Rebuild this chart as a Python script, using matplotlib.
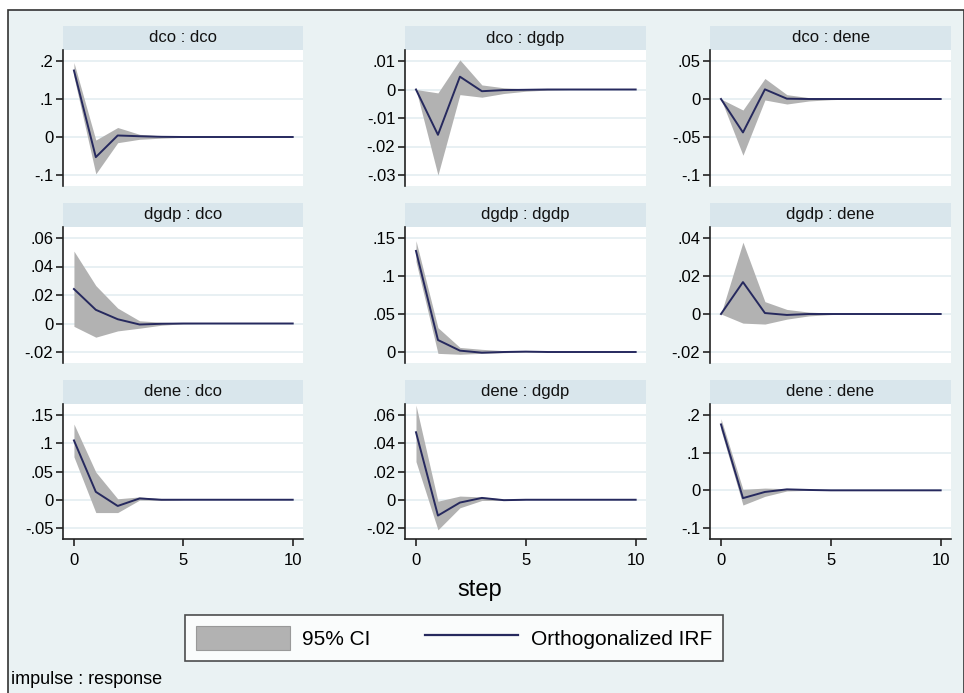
import matplotlib
matplotlib.use("Agg")
import matplotlib.pyplot as plt
from matplotlib.patches import Rectangle, Patch
from matplotlib.lines import Line2D
from matplotlib.ticker import FuncFormatter
import numpy as np

plt.rcParams['font.family'] = ['Liberation Sans', 'DejaVu Sans']

steps = list(range(11))

titles = ["dco : dco", "dco : dgdp", "dco : dene",
          "dgdp : dco", "dgdp : dgdp", "dgdp : dene",
          "dene : dco", "dene : dgdp", "dene : dene"]

irf_dco_dco = [0.175, -0.053, 0.004, 0.002, 0.0005, 0, 0, 0, 0, 0, 0]
up_dco_dco = [0.196, -0.008, 0.025, 0.007, 0.003, 0.001, 0, 0, 0, 0, 0]
lo_dco_dco = [0.159, -0.097, -0.015, -0.006, -0.003, -0.001, 0, 0, 0, 0, 0]

irf_dco_dgdp = [0, -0.0159, 0.0045, -0.0006, -0.0002, -0.0001, 0, 0, 0, 0, 0]
up_dco_dgdp = [0, -0.0012, 0.0104, 0.0016, 0.0006, 0.0002, 0, 0, 0, 0, 0]
lo_dco_dgdp = [0, -0.030, -0.0018, -0.0027, -0.0014, -0.0006, -0.0002, 0, 0, 0, 0]

irf_dco_dene = [0, -0.044, 0.0127, 0.0004, 0, 0, 0, 0, 0, 0, 0]
up_dco_dene = [0, -0.0145, 0.027, 0.0057, 0.0018, 0.0004, 0, 0, 0, 0, 0]
lo_dco_dene = [0, -0.074, -0.0013, -0.0066, -0.0026, -0.0009, 0, 0, 0, 0, 0]

irf_dgdp_dco = [0.0242, 0.0096, 0.003, -0.0007, -0.0002, 0, 0, 0, 0, 0, 0]
up_dgdp_dco = [0.0508, 0.0266, 0.0108, 0.0019, 0.0009, 0.0005, 0, 0, 0, 0, 0]
lo_dgdp_dco = [-0.002, -0.0096, -0.0052, -0.0033, -0.0012, -0.0002, 0, 0, 0, 0, 0]

irf_dgdp_dgdp = [0.133, 0.0158, 0.0018, -0.0009, 0, 0.0005, 0, 0, 0, 0, 0]
up_dgdp_dgdp = [0.1465, 0.032, 0.006, 0.0035, 0.0018, 0.001, 0, 0, 0, 0, 0]
lo_dgdp_dgdp = [0.119, -0.0018, -0.003, -0.0018, -0.0009, 0, 0, 0, 0, 0, 0]

irf_dgdp_dene = [0, 0.0168, 0.0005, -0.0005, 0, 0, 0, 0, 0, 0, 0]
up_dgdp_dene = [0, 0.0378, 0.0065, 0.0024, 0.001, 0.0005, 0, 0, 0, 0, 0]
lo_dgdp_dene = [0, -0.0048, -0.0053, -0.0027, -0.001, -0.0003, 0, 0, 0, 0, 0]

irf_dene_dco = [0.105, 0.014, -0.011, 0.0023, 0, 0, 0, 0, 0, 0, 0]
up_dene_dco = [0.134, 0.049, 0.0017, 0.005, 0.0017, 0, 0, 0, 0, 0, 0]
lo_dene_dco = [0.076, -0.0227, -0.0227, -0.0006, -0.001, 0, 0, 0, 0, 0, 0]

irf_dene_dgdp = [0.0478, -0.0112, -0.002, 0.0013, -0.0003, 0, 0, 0, 0, 0, 0]
up_dene_dgdp = [0.067, -0.001, 0.0026, 0.002, 0.0005, 0, 0, 0, 0, 0, 0]
lo_dene_dgdp = [0.027, -0.0213, -0.0057, -0.0005, -0.0005, 0, 0, 0, 0, 0, 0]

irf_dene_dene = [0.175, -0.0207, -0.0043, 0.0026, 0.001, 0, 0, 0, 0, 0, 0]
up_dene_dene = [0.19, 0.0026, 0.006, 0.0043, 0.001, 0, 0, 0, 0, 0, 0]
lo_dene_dene = [0.16, -0.039, -0.016, -0.0017, 0, 0, 0, 0, 0, 0, 0]

irfs = [irf_dco_dco, irf_dco_dgdp, irf_dco_dene,
        irf_dgdp_dco, irf_dgdp_dgdp, irf_dgdp_dene,
        irf_dene_dco, irf_dene_dgdp, irf_dene_dene]
ups = [up_dco_dco, up_dco_dgdp, up_dco_dene,
       up_dgdp_dco, up_dgdp_dgdp, up_dgdp_dene,
       up_dene_dco, up_dene_dgdp, up_dene_dene]
los = [lo_dco_dco, lo_dco_dgdp, lo_dco_dene,
       lo_dgdp_dco, lo_dgdp_dgdp, lo_dgdp_dene,
       lo_dene_dco, lo_dene_dgdp, lo_dene_dene]

yticks = [[-0.1, 0, 0.1, 0.2],
          [-0.03, -0.02, -0.01, 0, 0.01],
          [-0.1, -0.05, 0, 0.05],
          [-0.02, 0, 0.02, 0.04, 0.06],
          [0, 0.05, 0.1, 0.15],
          [-0.02, 0, 0.02, 0.04],
          [-0.05, 0, 0.05, 0.1, 0.15],
          [-0.02, 0, 0.02, 0.04, 0.06],
          [-0.1, 0, 0.1, 0.2]]
xticks = [0, 5, 10]

W, H = 964, 693
BG = '#EAF2F3'
STRIP = '#D9E6EC'
BAND = '#B2B2B2'
LINE = '#26295E'
GRID = '#E4EEF1'

fig = plt.figure(figsize=(W / 100, H / 100), dpi=100)
fig.patch.set_facecolor('white')

# outer frame / background
bgax = fig.add_axes([0, 0, 1, 1])
bgax.set_xlim(0, W)
bgax.set_ylim(H, 0)
bgax.axis('off')
bgax.add_patch(Rectangle((8, 10), W - 8, H - 10 + 5, facecolor=BG,
                         edgecolor='#333333', linewidth=1.2))


def fmt(v, pos):
    if abs(v) < 1e-12:
        return '0'
    s = ('%g' % v)
    s = s.replace('0.', '.')
    return s


col_x = [(63, 303), (405, 646), (710, 951)]
row_y = [(26, 50, 186), (203, 227, 363), (380, 404, 539)]

for i in range(9):
    r, c = divmod(i, 3)
    x0, x1 = col_x[c]
    s0, p0, p1 = row_y[r]
    # strip
    sax = fig.add_axes([x0 / W, 1 - p0 / H, (x1 - x0) / W, (p0 - s0) / H])
    sax.set_facecolor(STRIP)
    sax.set_xticks([])
    sax.set_yticks([])
    for sp in sax.spines.values():
        sp.set_visible(False)
    sax.text(0.5, 0.5, titles[i], ha='center', va='center', fontsize=12,
             transform=sax.transAxes, color='#111111')
    # plot
    ax = fig.add_axes([x0 / W, 1 - p1 / H, (x1 - x0) / W, (p1 - p0) / H])
    ax.set_facecolor('white')
    tk = yticks[i]
    lo_t, hi_t = tk[0], tk[-1]
    hpx = p1 - p0
    d = (hi_t - lo_t) * 11 / (hpx - 22)
    ax.set_ylim(lo_t - d, hi_t + d)
    ax.set_xlim(-0.5, 10.47)
    ax.set_yticks(tk)
    ax.yaxis.set_major_formatter(FuncFormatter(fmt))
    for t in tk:
        ax.axhline(t, color=GRID, lw=1.2, zorder=0)
    ax.fill_between(steps, los[i], ups[i], color=BAND, lw=0, zorder=1)
    ax.plot(steps, irfs[i], color=LINE, lw=1.4, zorder=2)
    for k in ['top', 'right']:
        ax.spines[k].set_visible(False)
    ax.spines['left'].set_color('#222222')
    ax.spines['left'].set_linewidth(1.2)
    ax.tick_params(axis='y', direction='out', length=5, width=1.2,
                   labelsize=12, color='#222222', pad=2)
    if r == 2:
        ax.spines['bottom'].set_color('#222222')
        ax.spines['bottom'].set_linewidth(1.2)
        ax.set_xticks(xticks)
        ax.tick_params(axis='x', direction='out', length=5, width=1.2,
                       labelsize=12, color='#222222', pad=5)
    else:
        ax.spines['bottom'].set_visible(False)
        ax.set_xticks([])

fig.text(480 / W, 1 - 590 / H, 'step', ha='center', va='center', fontsize=17)
fig.text(11 / W, 1 - 680 / H, 'impulse : response', ha='left', va='center',
         fontsize=13)

handles = [Patch(facecolor=BAND, edgecolor='#999999', linewidth=0.8),
           Line2D([0], [0], color=LINE, lw=1.6)]
leg = fig.legend(handles, ['95% CI', 'Orthogonalized IRF'],
                 loc='center', bbox_to_anchor=(454 / W, 1 - 638 / H),
                 ncol=2, fontsize=15, frameon=True, fancybox=False,
                 edgecolor='#222222', handlelength=4.5, handleheight=1.45,
                 columnspacing=2.6, handletextpad=0.6, borderpad=0.5,
                 borderaxespad=0)
leg.get_frame().set_linewidth(1.2)

fig.savefig('out.png', dpi=100, facecolor=fig.get_facecolor())
